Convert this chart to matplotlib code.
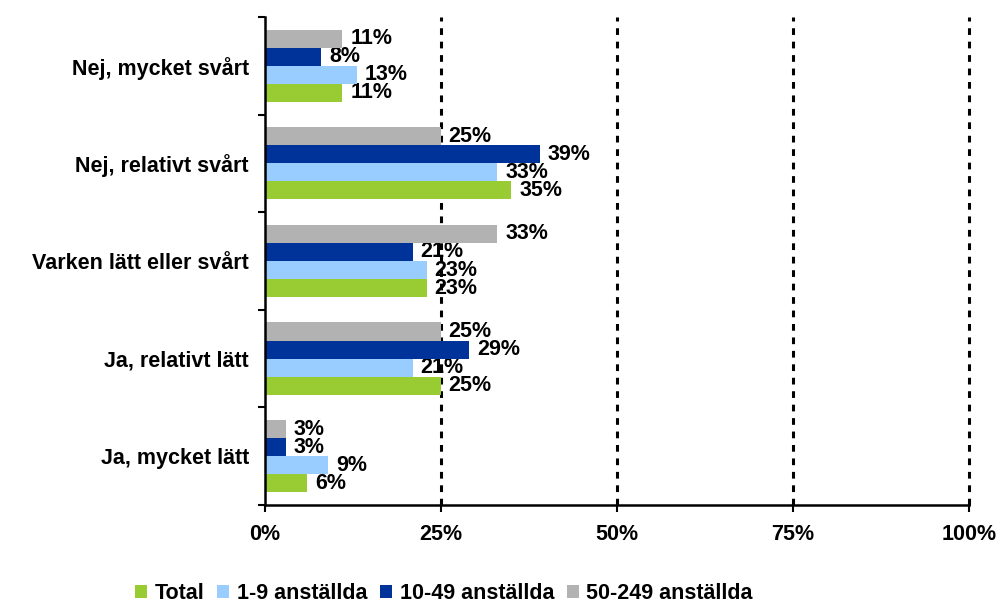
import matplotlib
matplotlib.use("Agg")
import matplotlib.pyplot as plt
import numpy as np
from matplotlib.ticker import FixedLocator

plt.rcParams["font.family"] = ["Liberation Sans", "DejaVu Sans"]
plt.rcParams["font.weight"] = "bold"

categories = ["Nej, mycket svårt", "Nej, relativt svårt", "Varken lätt eller svårt",
              "Ja, relativt lätt", "Ja, mycket lätt"]
series_names = ["Total", "1-9 anställda", "10-49 anställda", "50-249 anställda"]
total = [11, 35, 23, 25, 6]
small = [13, 33, 23, 21, 9]
medium = [8, 39, 21, 29, 3]
large = [11, 25, 33, 25, 3]
colors = ["#99CC33", "#99CCFF", "#003399", "#B2B2B2"]
x_ticks = [0, 25, 50, 75, 100]

FS = 15.5

fig = plt.figure(figsize=(9.98, 6.06), dpi=100)
ax = fig.add_axes([0.2655, 0.1667, 0.7055, 0.8053])

n = len(categories)
centers = np.arange(n)[::-1].astype(float)
h = 0.185
offsets = [-1.5 * h, -0.5 * h, 0.5 * h, 1.5 * h]

for vals, name, col, off in zip([total, small, medium, large], series_names, colors, offsets):
    ys = centers + off
    ax.barh(ys, vals, height=h, color=col, label=name, zorder=3)
    for y, v in zip(ys, vals):
        ax.text(v + 1.1, y, f"{v}%", ha="left", va="center", fontsize=FS,
                fontweight="bold", color="black", zorder=1)

ax.set_xlim(0, 100)
ax.set_ylim(-0.5, n - 0.5)

# dotted gridlines sit behind the bars but over the value labels
for x in x_ticks[1:]:
    ax.axvline(x, color="black", linestyle=(0, (2.2, 2.2)), linewidth=2.2,
               zorder=2, clip_on=False)

ax.set_xticks(x_ticks)
ax.set_xticklabels([f"{x}%" for x in x_ticks], fontsize=FS, fontweight="bold")
ax.tick_params(axis="x", direction="out", length=5, width=1.5, pad=9)

# ticks on category boundaries, labels on category centres
ax.yaxis.set_major_locator(FixedLocator(np.arange(-0.5, n, 1.0)))
ax.set_yticklabels([])
ax.yaxis.set_minor_locator(FixedLocator(centers))
ax.set_yticklabels(categories, minor=True, fontsize=FS, fontweight="bold")
ax.tick_params(axis="y", which="major", direction="out", length=5, width=1.5)
ax.tick_params(axis="y", which="minor", length=0, pad=11.5)

for s in ["top", "right"]:
    ax.spines[s].set_visible(False)
for s in ["left", "bottom"]:
    ax.spines[s].set_linewidth(1.8)
    ax.spines[s].set_zorder(4)

fig.legend(loc="center", bbox_to_anchor=(0.445, 0.02), ncol=4, frameon=False,
           fontsize=FS, handlelength=0.55, handleheight=0.55, handletextpad=0.35,
           columnspacing=0.6, borderaxespad=0)

fig.savefig("out.png", dpi=100)
